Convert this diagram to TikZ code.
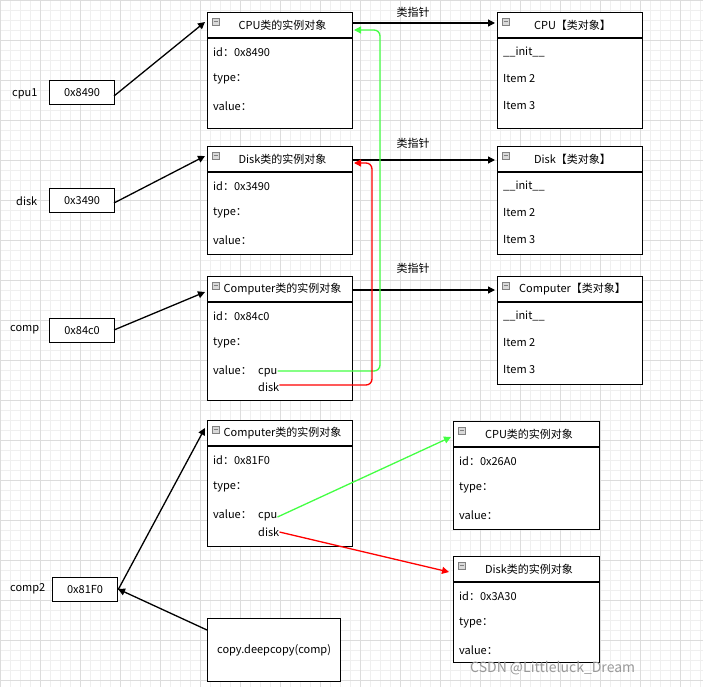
\documentclass[tikz,border=0pt]{standalone}
\usepackage{fontspec}
\setmainfont{Noto Sans CJK SC}
\usetikzlibrary{arrows.meta}
\definecolor{gfine}{HTML}{EFEFEF}
\definecolor{gmaj}{HTML}{DCDCDC}
\definecolor{lgreen}{HTML}{44FF44}
\tikzset{
  box/.style={draw,line width=1.2pt,fill=white,anchor=north west,inner sep=0pt},
  txt/.style={anchor=west,inner sep=0pt,font=\fontsize{11}{12}\selectfont},
  ptr/.style={draw,line width=1.2pt,fill=white,minimum width=65pt,minimum height=24pt,anchor=north west,inner sep=0pt,font=\fontsize{11}{12}\selectfont},
  arr/.style={-{Triangle[length=7pt,width=7pt]},line width=1.3pt},
}
% #1 name #2 x #3 y #4 width #5 height #6 title #7 #8 #9 rows
\newcommand\ubox[9]{%
  \node[box,minimum width=#4pt,minimum height=#5pt] (#1) at (#2,#3) {};
  \draw[line width=1.2pt] (#2,#3+26) -- ++(#4,0);
  \draw[gray,fill=gray!30] (#2+5,#3+6) rectangle ++(7,7);
  \draw[gray] (#2+6.5,#3+9.5) -- ++(4,0);
  \node[txt,anchor=center] (#1-t) at (#2+#4/2+3,#3+13) {#6};
  \node[txt] (#1-a) at (#2+6,#3+40) {#7};
  \node[txt] (#1-b) at (#2+6,#3+67) {#8};
  \node[txt] (#1-c) at (#2+6,#3+94) {#9};
}
\begin{document}
\begin{tikzpicture}[x=1pt,y=-1pt]
\fill[white] (0,0) rectangle (703,687);
\useasboundingbox (0,0) rectangle (703,687);
\draw[gfine,line width=0.5pt] (0,0) grid[step=10pt] (703,687);
\foreach \i in {0,40,...,700} \draw[gmaj,line width=0.5pt] (\i,0) -- (\i,687);
\foreach \i in {0,40,...,680} \draw[gmaj,line width=0.5pt] (0,\i) -- (703,\i);

\ubox{cpuI}{207}{12}{145}{116}{CPU类的实例对象}{id：0x8490}{type：}{value：}
\ubox{cpuC}{497}{12}{145}{116}{CPU【类对象】}{\_\_init\_\_}{Item 2}{Item 3}
\ubox{diskI}{207}{146}{145}{108}{Disk类的实例对象}{id：0x3490}{type：}{value：}
\ubox{diskC}{497}{146}{145}{108}{Disk【类对象】}{\_\_init\_\_}{Item 2}{Item 3}
\ubox{compI}{207}{276}{145}{124}{Computer类的实例对象}{id：0x84c0}{type：}{value：}
\ubox{compC}{497}{276}{145}{108}{Computer【类对象】}{\_\_init\_\_}{Item 2}{Item 3}
\ubox{comp2I}{207}{420}{145}{126}{Computer类的实例对象}{id：0x81F0}{type：}{value：}
\ubox{cpu2}{453}{421}{146}{108}{CPU类的实例对象}{id：0x26A0}{type：}{value：}
\ubox{disk2}{453}{556}{146}{106}{Disk类的实例对象}{id：0x3A30}{type：}{value：}

\node[txt] (c1cpu) at (258,373) {cpu};
\node[txt] (c1disk) at (258,387) {disk};
\node[txt] (c2cpu) at (258,517) {cpu};
\node[txt] (c2disk) at (258,532) {disk};

\node[ptr] (p1) at (49,80) {0x8490};
\node[ptr] (p2) at (49,188) {0x3490};
\node[ptr] (p3) at (49,318) {0x84c0};
\node[ptr] (p4) at (52,577) {0x81F0};
\node[txt] (l1) at (12,94) {cpu1};
\node[txt] (l2) at (16,201) {disk};
\node[txt] (l3) at (10,330) {comp};
\node[txt] (l4) at (10,589) {comp2};
\node[ptr,minimum width=133pt,minimum height=63pt] (cp) at (207,618) {copy.deepcopy(comp)};

\coordinate (gx) at (380,0);
\coordinate (rx) at (372,0);

\draw[arr] (114,96) -- (205,22);
\draw[arr] (114,203) -- (205,156);
\draw[arr] (114,330) -- (205,292);
\draw[arr] (p4.east) -- (205,428);
\draw[arr] (207,630) -- (118,589);

\draw[arr] (352,23) -- (495,23);
\draw[arr] (352,160) -- (495,160);
\draw[arr] (352,290) -- (495,290);
\node[txt,anchor=center] (k1) at (413,12) {类指针};
\node[txt,anchor=center] (k2) at (413,143) {类指针};
\node[txt,anchor=center] (k3) at (413,268) {类指针};

\draw[arr,lgreen,rounded corners=6pt] ([yshift=2pt]c1cpu.east) -- ([yshift=2pt]c1cpu.east -| gx) -- (380,30) -- (354,30);
\draw[arr,red,rounded corners=6pt] ([yshift=2pt]c1disk.east) -- ([yshift=2pt]c1disk.east -| rx) -- (372,163) -- (354,163);
\draw[arr,lgreen] (c2cpu.east) -- (451,437);
\draw[arr,red] (c2disk.east) -- (449,572);

\node[txt,gray!80,font=\fontsize{14}{15}\selectfont] (wm) at (470,668) {CSDN @Littleluck\_Dream};
\end{tikzpicture}
\end{document}
